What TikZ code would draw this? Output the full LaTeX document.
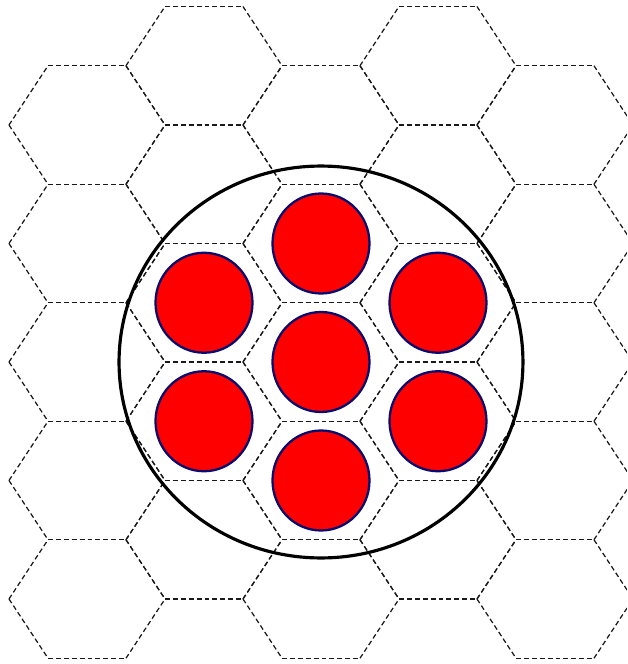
\documentclass[tikz,border=0pt]{standalone}
\usetikzlibrary{shapes.geometric}
\definecolor{rodblue}{RGB}{10,10,110}
\tikzset{
  hexedge/.style={dash pattern=on 2.8pt off 1.7pt, line width=0.7pt, black!90},
  fuelrod/.style={ellipse, draw=rodblue, fill=red, line width=1.3pt, inner sep=0pt, minimum width=1.94cm, minimum height=2.0cm},
  vessel/.style={ellipse, draw, line width=1.8pt, inner sep=0pt, minimum width=8.08cm, minimum height=7.84cm}
}

\begin{document}
\begin{tikzpicture}[x=0.02cm, y=0.02cm]
  \useasboundingbox (-321,-302) rectangle (306,362);
  \clip (-321,-302) rectangle (306,362);
  % hexagonal lattice, odd columns shifted up by half a cell
  \def\hexR{78}
  \def\hexH{59.25}
  \foreach \i in {-2,...,2}{
    \foreach \j in {-2,...,2}{
      \pgfmathsetmacro{\cx}{117*\i}
      \pgfmathsetmacro{\cy}{118.5*\j + 59.25*mod(abs(\i),2)}
      \draw[hexedge] (\cx-\hexR/2,\cy+\hexH) -- (\cx+\hexR/2,\cy+\hexH);
      \draw[hexedge] (\cx-\hexR/2,\cy-\hexH) -- (\cx+\hexR/2,\cy-\hexH);
      \draw[hexedge] (\cx-\hexR,\cy) -- (\cx-\hexR/2,\cy+\hexH);
      \draw[hexedge] (\cx-\hexR,\cy) -- (\cx-\hexR/2,\cy-\hexH);
      \draw[hexedge] (\cx+\hexR/2,\cy+\hexH) -- (\cx+\hexR,\cy);
      \draw[hexedge] (\cx+\hexR/2,\cy-\hexH) -- (\cx+\hexR,\cy);
    }
  }
  % pins
  \node[fuelrod] (rodc) at (0,0) {};
  \node[fuelrod] (rodn) at (0,118.5) {};
  \node[fuelrod] (rods) at (0,-118.5) {};
  \node[fuelrod] (rodnw) at (-117,59.25) {};
  \node[fuelrod] (rodsw) at (-117,-59.25) {};
  \node[fuelrod] (rodne) at (117,59.25) {};
  \node[fuelrod] (rodse) at (117,-59.25) {};
  \node[vessel] (shell) at (0,0) {};
\end{tikzpicture}
\end{document}
